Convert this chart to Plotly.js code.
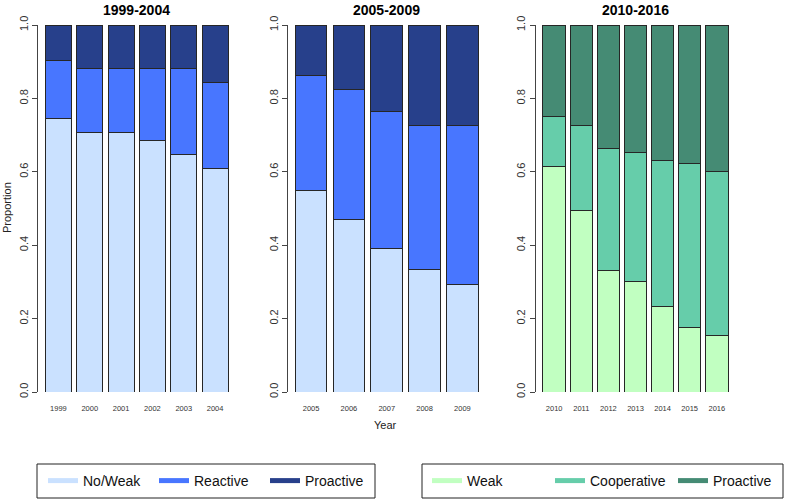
<!DOCTYPE html>
<html>
<head>
<meta charset="utf-8">
<script src="https://cdn.plot.ly/plotly-3.0.1.min.js"></script>
<style>
	html, body { margin: 0; padding: 0; background: #fff; }
	#chart { width: 800px; height: 503px; }
</style>
</head>
<body>
<div id="chart"></div>
<script>
// values (shares per year)
var years1 = ['1999', '2000', '2001', '2002', '2003', '2004'];
var noWeak1 = [0.745, 0.706, 0.706, 0.686, 0.647, 0.608];
var reactive1 = [0.157, 0.176, 0.176, 0.196, 0.235, 0.235];
var proactive1 = [0.098, 0.118, 0.118, 0.118, 0.118, 0.157];

var years2 = ['2005', '2006', '2007', '2008', '2009'];
var noWeak2 = [0.549, 0.471, 0.392, 0.333, 0.294];
var reactive2 = [0.314, 0.353, 0.373, 0.392, 0.431];
var proactive2 = [0.137, 0.176, 0.235, 0.275, 0.275];

var years3 = ['2010', '2011', '2012', '2013', '2014', '2015', '2016'];
var weak3 = [0.615, 0.495, 0.330, 0.300, 0.233, 0.175, 0.154];
var coop3 = [0.135, 0.230, 0.334, 0.353, 0.398, 0.448, 0.446];
var proactive3 = [0.250, 0.275, 0.336, 0.347, 0.369, 0.377, 0.400];

var blues = ['#CAE1FF', '#4876FF', '#27408B'];
var greens = ['#C1FFC1', '#66CDAA', '#458B74'];

var W = 800, H = 503;
function px(x) { return x / W; }
function py(y) { return (H - y) / H; }

var FONT = 'Liberation Sans, Arial, sans-serif';
var edge = { color: '#262626', width: 1 };

function bar(x, y, color, xa, ya, name) {
	return {
		type: 'bar', x: x, y: y, name: name,
		xaxis: xa, yaxis: ya,
		marker: { color: color, line: edge },
		showlegend: false, hoverinfo: 'x+y+name'
	};
}

function key(name, color, legend) {
	return {
		type: 'scatter', mode: 'lines', x: [null], y: [null],
		name: name, legend: legend,
		line: { color: color, width: 5 },
		hoverinfo: 'skip'
	};
}

var data = [
	bar(years1, noWeak1, blues[0], 'x', 'y', 'No/Weak'),
	bar(years1, reactive1, blues[1], 'x', 'y', 'Reactive'),
	bar(years1, proactive1, blues[2], 'x', 'y', 'Proactive'),
	bar(years2, noWeak2, blues[0], 'x2', 'y2', 'No/Weak'),
	bar(years2, reactive2, blues[1], 'x2', 'y2', 'Reactive'),
	bar(years2, proactive2, blues[2], 'x2', 'y2', 'Proactive'),
	bar(years3, weak3, greens[0], 'x3', 'y3', 'Weak'),
	bar(years3, coop3, greens[1], 'x3', 'y3', 'Cooperative'),
	bar(years3, proactive3, greens[2], 'x3', 'y3', 'Proactive'),
	key('No/Weak', blues[0], 'legend'),
	key('Reactive', blues[1], 'legend'),
	key('Proactive', blues[2], 'legend'),
	key('Weak', greens[0], 'legend2'),
	key('Cooperative', greens[1], 'legend2'),
	key('Proactive', greens[2], 'legend2')
];

// R barplot: width 1, space 0.2, 4% axis extension
function xRange(n) {
	var ext = 0.04 * (1.2 * n - 0.2) / 1.2;
	return [-0.5 / 1.2 - ext, n - 1 + 0.5 / 1.2 + ext];
}

function xAxis(n, left, right) {
	return {
		type: 'category', domain: [px(left), px(right)], range: xRange(n),
		showline: false, showgrid: false, zeroline: false, ticks: '',
		tickfont: { family: FONT, size: 7.5, color: '#333' },
		ticklabelstandoff: 10, fixedrange: true
	};
}

function yAxis() {
	return {
		domain: [py(392), py(25)], range: [0, 1],
		tickvals: [0, 0.2, 0.4, 0.6, 0.8, 1.0],
		ticktext: ['0.0', '0.2', '0.4', '0.6', '0.8', '1.0'],
		tickangle: -90, ticks: 'outside', ticklen: 5, tickcolor: '#444',
		showline: true, linecolor: '#444', linewidth: 1,
		showgrid: false, zeroline: false,
		tickfont: { family: FONT, size: 11, color: '#333' },
		fixedrange: true
	};
}

var y1 = yAxis(), y2 = yAxis(), y3 = yAxis();
y1.anchor = 'x'; y2.anchor = 'x2'; y3.anchor = 'x3';
var x1 = xAxis(6, 38, 235.5), x2 = xAxis(5, 288, 485.5), x3 = xAxis(7, 535.5, 735.5);
x1.anchor = 'y'; x2.anchor = 'y2'; x3.anchor = 'y3';

function title(text, cx) {
	return {
		text: text, xref: 'paper', yref: 'paper', x: px(cx), y: py(10),
		xanchor: 'center', yanchor: 'middle', showarrow: false,
		font: { family: FONT, size: 14, color: '#000', weight: 'bold' }
	};
}

var legendFont = { family: FONT, size: 14, color: '#111' };

var layout = {
	width: W, height: H,
	margin: { l: 0, r: 0, t: 0, b: 0 },
	paper_bgcolor: '#fff', plot_bgcolor: '#fff',
	barmode: 'stack', bargap: 0.2 / 1.2,
	xaxis: x1, yaxis: y1, xaxis2: x2, yaxis2: y2, xaxis3: x3, yaxis3: y3,
	legend: {
		orientation: 'h', x: px(43), y: py(481), xanchor: 'left', yanchor: 'middle',
		traceorder: 'normal', entrywidth: 66, entrywidthmode: 'pixels',
		bgcolor: 'rgba(0,0,0,0)', borderwidth: 0, font: legendFont
	},
	legend2: {
		orientation: 'h', x: px(427), y: py(481), xanchor: 'left', yanchor: 'middle',
		traceorder: 'normal', entrywidth: 78, entrywidthmode: 'pixels',
		bgcolor: 'rgba(0,0,0,0)', borderwidth: 0, font: legendFont
	},
	shapes: [
		{ type: 'rect', xref: 'paper', yref: 'paper', x0: px(37), x1: px(375), y0: py(498), y1: py(464),
			line: { color: '#222', width: 1 } },
		{ type: 'rect', xref: 'paper', yref: 'paper', x0: px(422), x1: px(783), y0: py(498), y1: py(464),
			line: { color: '#222', width: 1 } }
	],
	annotations: [
		title('1999-2004', 136.5),
		title('2005-2009', 386.5),
		title('2010-2016', 635.5),
		{ text: 'Proportion', xref: 'paper', yref: 'paper', x: px(7), y: py(208),
			textangle: -90, showarrow: false, xanchor: 'center', yanchor: 'middle',
			font: { family: FONT, size: 11, color: '#222' } },
		{ text: 'Year', xref: 'paper', yref: 'paper', x: px(385), y: py(425),
			showarrow: false, xanchor: 'center', yanchor: 'middle',
			font: { family: FONT, size: 11, color: '#222' } }
	]
};

Plotly.newPlot('chart', data, layout, { displayModeBar: false, staticPlot: true });
</script>
</body>
</html>
